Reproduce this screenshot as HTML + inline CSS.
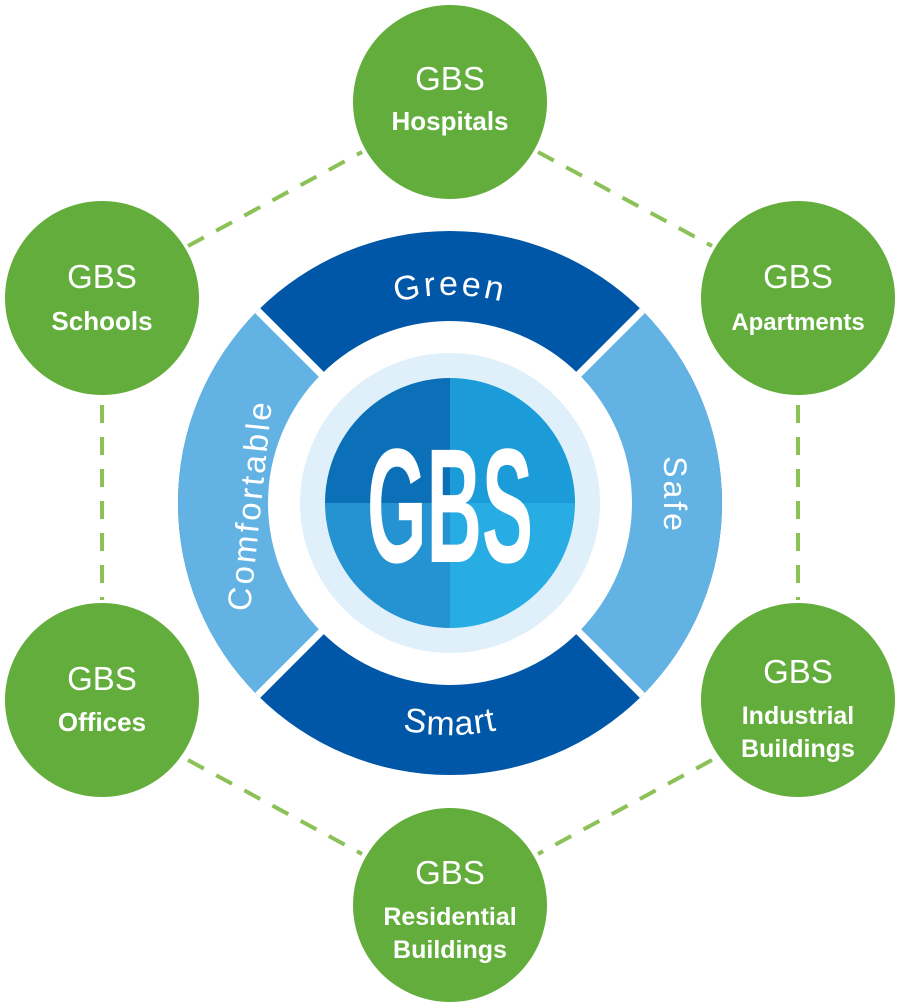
<!DOCTYPE html>
<html><head><meta charset="utf-8"><style>
html,body{margin:0;padding:0;background:#fff;}
svg{display:block;}
</style></head><body>
<svg width="900" height="1008" viewBox="0 0 900 1008" xmlns="http://www.w3.org/2000/svg" font-family="Liberation Sans, DejaVu Sans, sans-serif">
<g stroke="#8cc158" stroke-width="4" stroke-dasharray="18,14" fill="none">
<line x1="188" y1="246" x2="362" y2="152"/>
<line x1="538" y1="152" x2="712" y2="246"/>
<line x1="102" y1="405" x2="102" y2="600"/>
<line x1="798" y1="405" x2="798" y2="600"/>
<line x1="188" y1="760" x2="362" y2="854"/>
<line x1="712" y1="760" x2="538" y2="854"/>
</g>
<g fill="#62ad3b">
<circle cx="450" cy="102" r="97"/>
<circle cx="102" cy="298" r="97"/>
<circle cx="798" cy="298" r="97"/>
<circle cx="102" cy="700" r="97"/>
<circle cx="798" cy="700" r="97"/>
<circle cx="450" cy="905" r="97"/>
</g>
<g fill="#fff" text-anchor="middle">
<text x="450" y="90" font-size="33">GBS</text>
<text x="450" y="130" font-size="26" font-weight="bold">Hospitals</text>
<text x="102" y="288" font-size="33">GBS</text>
<text x="102" y="330" font-size="26" font-weight="bold">Schools</text>
<text x="798" y="288" font-size="33">GBS</text>
<text x="798" y="330" font-size="24" font-weight="bold">Apartments</text>
<text x="102" y="690" font-size="33">GBS</text>
<text x="102" y="731" font-size="26" font-weight="bold">Offices</text>
<text x="798" y="683" font-size="33">GBS</text>
<text x="798" y="724" font-size="25" font-weight="bold">Industrial</text>
<text x="798" y="757" font-size="25" font-weight="bold">Buildings</text>
<text x="450" y="884" font-size="33">GBS</text>
<text x="450" y="925" font-size="25" font-weight="bold">Residential</text>
<text x="450" y="958" font-size="25" font-weight="bold">Buildings</text>
</g>
<g transform="translate(450,503)">
<clipPath id="ring"><circle r="272"/></clipPath>
<g clip-path="url(#ring)">
<rect x="-280" y="-280" width="560" height="560" fill="#0057a8"/>
<path d="M0 0 L-300 -300 L-300 300 Z" fill="#62b3e4"/>
<path d="M0 0 L300 -300 L300 300 Z" fill="#62b3e4"/>
<line x1="-290" y1="-290" x2="290" y2="290" stroke="#fff" stroke-width="7"/>
<line x1="290" y1="-290" x2="-290" y2="290" stroke="#fff" stroke-width="7"/>
</g>
<circle r="182" fill="#fff"/>
<circle r="150" fill="#dff0fb"/>
<clipPath id="d"><circle r="125"/></clipPath>
<g clip-path="url(#d)">
<rect x="-125" y="-125" width="125" height="125" fill="#0b70b7"/>
<rect x="0" y="-125" width="125" height="125" fill="#1b9bd7"/>
<rect x="-125" y="0" width="125" height="125" fill="#2592d2"/>
<rect x="0" y="0" width="125" height="125" fill="#27ade3"/>
</g>
<text x="0" y="59" text-anchor="middle" fill="#fff" font-size="163" font-weight="bold" transform="scale(0.47,1)">GBS</text>
<defs>
<path id="top" d="M-208 0 A208 208 0 0 1 208 0"/>
<path id="bot" d="M-232 0 A232 232 0 0 0 232 0"/>
</defs>
<text fill="#fff" font-size="34" letter-spacing="3" text-anchor="middle"><textPath href="#top" startOffset="50%">Green</textPath></text>
<text fill="#fff" font-size="34" letter-spacing="1" text-anchor="middle"><textPath href="#bot" startOffset="50%">Smart</textPath></text>
<text transform="translate(-200,2) rotate(-84)" fill="#fff" font-size="33" letter-spacing="3" text-anchor="middle" dy="11">Comfortable</text>
<text transform="translate(214,-8) rotate(90)" fill="#fff" font-size="32" letter-spacing="3" text-anchor="middle">Safe</text>
</g>
</svg>
</body></html>
